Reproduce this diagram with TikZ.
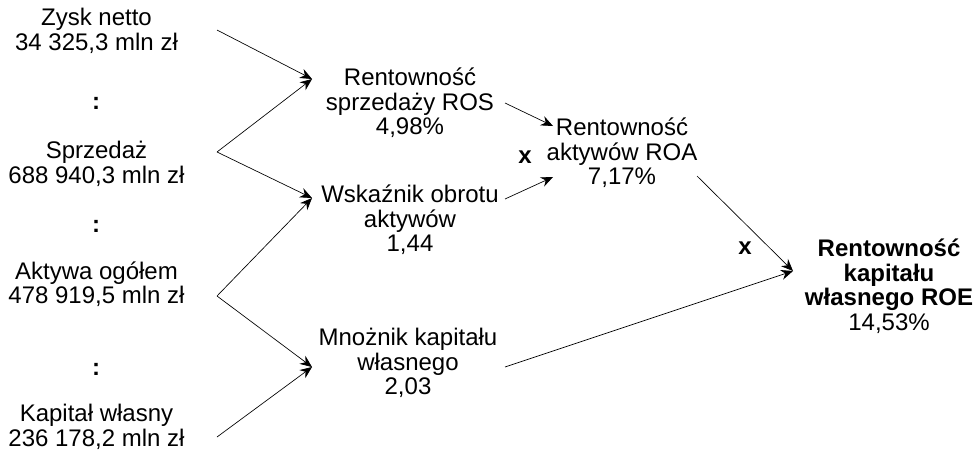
\documentclass[tikz,border=0pt]{standalone}
\usepackage{fontspec}
\setmainfont{Liberation Sans}
\usepackage{tikz}
\usetikzlibrary{arrows.meta}

\tikzset{
  txt/.style={align=center, inner sep=0pt, font=\fontsize{18}{18.4}\selectfont},
  op/.style={inner sep=0pt, font=\fontsize{18}{18.4}\selectfont\bfseries},
  arr/.style={-{Stealth[length=9pt,width=7.5pt,inset=3pt]}, line width=0.5pt}
}

\begin{document}
\begin{tikzpicture}[x=0.75pt,y=0.75pt,yscale=-1,xscale=1]
\useasboundingbox (0,0) rectangle (977,454);

% Text Node
\node[txt] (zysk) at (96.5,31) {Zysk netto\\34 325,3 mln zł};
% Text Node
\node[op] (div1) at (96,103) {:};
% Text Node
\node[txt] (sprzedaz) at (96.5,164) {Sprzedaż\\688 940,3 mln zł};
% Text Node
\node[op] (div2) at (96,226) {:};
% Text Node
\node[txt] (aktywa) at (96.5,284) {Aktywa ogółem\\478 919,5 mln zł};
% Text Node
\node[op] (div3) at (96,369) {:};
% Text Node
\node[txt] (kapital) at (96.5,427) {Kapitał własny\\236 178,2 mln zł};

% Text Node
\node[txt] (ros) at (410,103) {Rentowność\\sprzedaży ROS\\4,98\%};
% Text Node
\node[txt] (wskaznik) at (410,220) {Wskaźnik obrotu\\aktywów\\1,44};
% Text Node
\node[txt] (mnoznik) at (408,363) {Mnożnik kapitału\\własnego\\2,03};
% Text Node
\node[txt] (roa) at (622,153) {Rentowność\\aktywów ROA\\7,17\%};
% Text Node
\node[txt] (roe) at (889,286) {\textbf{Rentowność}\\\textbf{kapitału}\\\textbf{własnego ROE}\\14,53\%};
% Text Node
\node[op] (mul1) at (525,157) {x};
% Text Node
\node[op] (mul2) at (745,248) {x};

% ends of the lines
\coordinate (zysk-out) at (217,30);
\coordinate (sprzedaz-out) at (217,152);
\coordinate (aktywa-out) at (217,296);
\coordinate (kapital-out) at (217,437);
\coordinate (ros-in) at (312,79);
\coordinate (wskaznik-in) at (312,198);
\coordinate (mnoznik-in) at (312,367);
\coordinate (ros-out) at (505,103);
\coordinate (wskaznik-out) at (505,199);
\coordinate (mnoznik-out) at (505,367);
\coordinate (roa-in-a) at (553,126);
\coordinate (roa-in-b) at (553,177);
\coordinate (roa-out) at (697,176);
\coordinate (roe-in) at (793,271);

%Straight Lines
\draw[arr] (zysk-out) -- (ros-in);
\draw[arr] (sprzedaz-out) -- (ros-in);
\draw[arr] (sprzedaz-out) -- (wskaznik-in);
\draw[arr] (aktywa-out) -- (wskaznik-in);
\draw[arr] (aktywa-out) -- (mnoznik-in);
\draw[arr] (kapital-out) -- (mnoznik-in);
%Straight Lines
\draw[arr] (ros-out) -- (roa-in-a);
\draw[arr] (wskaznik-out) -- (roa-in-b);
\draw[arr] (roa-out) -- (roe-in);
\draw[arr] (mnoznik-out) -- (roe-in);

\end{tikzpicture}
\end{document}
